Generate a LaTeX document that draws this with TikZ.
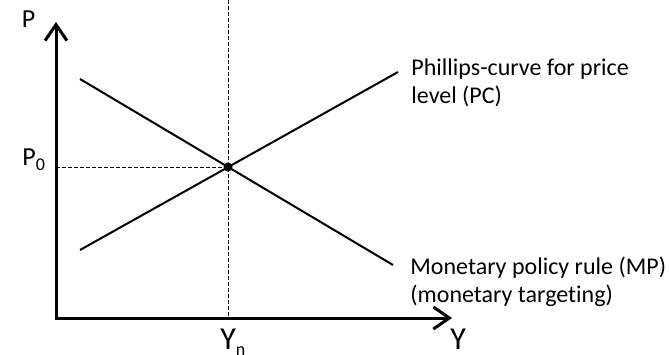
\documentclass[tikz,border=0pt]{standalone}
\usepackage{fontspec}
\setmainfont{Carlito}[Ligatures=NoCommon]
\usetikzlibrary{arrows.meta,positioning}

\newcommand{\lowsub}[1]{\raisebox{-0.45ex}{\fontsize{9}{9}\selectfont #1}}

\begin{document}
\begin{tikzpicture}[
    x=0.5pt, y=-0.5pt,
    axis/.style={line width=1.5pt, {Straight Barb[length=8pt,width=11pt]}-{Straight Barb[length=8pt,width=11pt]}},
    curve/.style={line width=1pt},
    guide/.style={line width=0.5pt, dash pattern=on 2pt off 1pt},
    dot/.style={circle, fill=black, inner sep=0pt, minimum size=4.5pt},
    lbl/.style={font=\fontsize{12}{14}\selectfont, align=left, inner sep=0pt},
    axlbl/.style={font=\fontsize{13}{15}\selectfont, inner sep=0pt},
    ylbl/.style={font=\fontsize{16}{18}\selectfont, inner sep=0pt}
]
    \useasboundingbox (0,0) rectangle (669,354);

    % Axes
    \coordinate (O) at (56,318);
    \coordinate (ytop) at (56,22);
    \coordinate (xend) at (452,318);
    \draw[axis] (ytop) -- (O) -- (xend);

    % Equilibrium
    \node[dot] (E) at (228,167) {};
    \coordinate (ntop) at (228,0);

    % Guides
    \draw[guide] (ntop) -- (E.center |- O);
    \draw[guide] (O |- E) -- (E.center);

    % Curves
    \coordinate (mp1) at (80,79);
    \coordinate (mp2) at (393,265);
    \coordinate (pc1) at (80,250);
    \coordinate (pc2) at (398,72);
    \draw[curve] (mp1) -- (mp2);
    \draw[curve] (pc1) -- (pc2);

    % Labels
    \node[axlbl, anchor=base] (Plbl) at (28.5,27) {P};
    \node[axlbl, anchor=base west] (P0) at (22,165) {P\lowsub{0}};
    \node[ylbl, anchor=base west] (Yn) at (220,349) {Y\lowsub{n}};
    \node[ylbl, anchor=base west] (Ylbl) at (450,349) {Y};
    \node[lbl, anchor=base west] (PC) at (411,103) {Phillips-curve for price\\level (PC)};
    \node[lbl, anchor=base west] (MP) at (410,302) {Monetary policy rule (MP)\\(monetary targeting)};
\end{tikzpicture}
\end{document}
